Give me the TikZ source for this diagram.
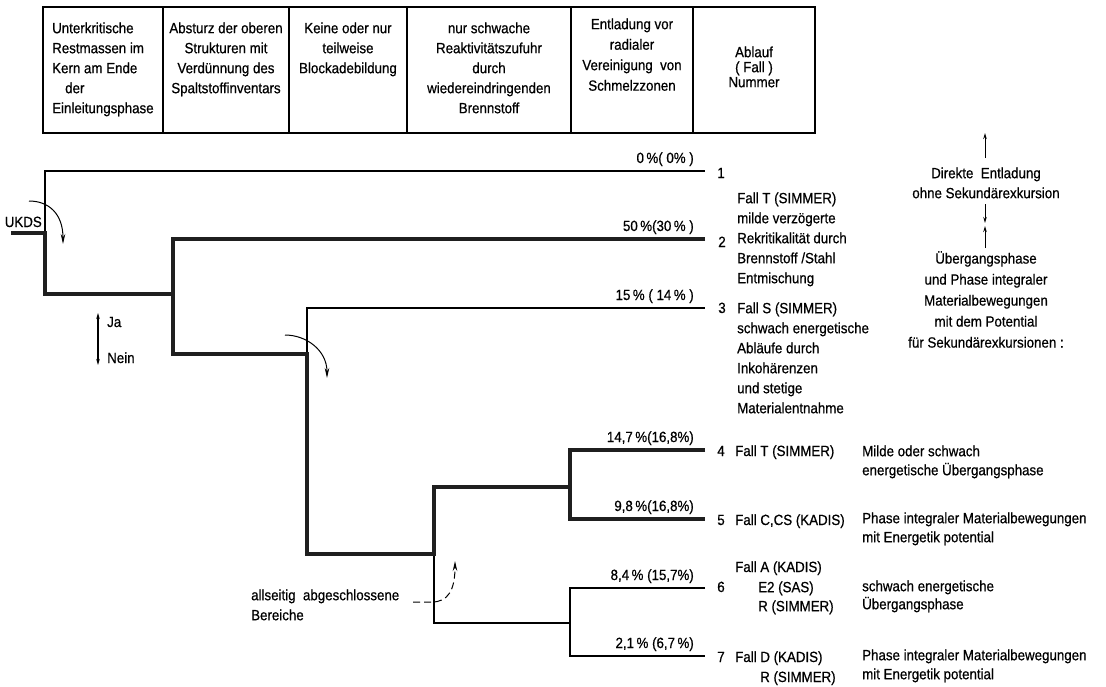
\documentclass[tikz,border=0pt]{standalone}
\usepackage{fontspec}
\setmainfont{Liberation Sans}[FakeStretch=0.9,FakeBold=0.6]
\usetikzlibrary{arrows.meta}
\newcommand{\myst}{\rule{0pt}{12pt}}
\begin{document}
\begin{tikzpicture}[x=1pt,y=-1pt,
  lthin/.style={line width=1.3pt, draw=black},
  lthick/.style={line width=3.2pt, draw=black!88},
  lbox/.style={line width=1.3pt},
  txt/.style={inner sep=0pt, font=\fontsize{14.8}{#1}\selectfont},
  txt/.default=20,
  curarrow/.style={line width=1pt, -{Stealth[length=10pt,width=4.5pt]}},
  smallarrow/.style={line width=1pt, -{Stealth[length=6pt,width=3.5pt]}},
]
\useasboundingbox (0,0) rectangle (1106,686);

% ---------- header table ----------
\draw[lbox] (43,7) rectangle (815,133);
\foreach \xx in {163,289,407,571,693} \draw[lbox] (\xx,7) -- (\xx,133);

\node[txt, anchor=north west, align=left] (h1) at (52,21)
  {\myst Unterkritische\\Restmassen im\\Kern am Ende\\\hspace*{13pt}der\\Einleitungsphase};
\node[txt, anchor=north, align=center] (h2) at (226,21)
  {\myst Absturz der oberen\\Strukturen mit\\Verdünnung des\\Spaltstoffinventars};
\node[txt, anchor=north, align=center] (h3) at (348,21)
  {\myst Keine oder nur\\teilweise\\Blockadebildung};
\node[txt, anchor=north, align=center] (h4) at (489,21)
  {\myst nur schwache\\Reaktivitätszufuhr\\durch\\wiedereindringenden\\Brennstoff};
\node[txt=20.5, anchor=north, align=center] (h5) at (632,17)
  {\myst Entladung vor\\radialer\\Vereinigung\ \ von\\Schmelzzonen};
\node[txt=15, anchor=north, align=center] (h6) at (754,45)
  {\myst Ablauf\\( Fall )\\Nummer};

% ---------- tree coordinates ----------
\coordinate (u0) at (11,233);
\coordinate (j1) at (45,233);
\coordinate (t1) at (45,171);
\coordinate (e1) at (705,171);
\coordinate (j1b) at (45,294);
\coordinate (j2) at (173,294);
\coordinate (j2t) at (173,239);
\coordinate (e2) at (705,239);
\coordinate (j2b) at (173,354);
\coordinate (j3) at (307,354);
\coordinate (j3t) at (307,308);
\coordinate (e3) at (705,308);
\coordinate (j3b) at (307,554);
\coordinate (j4) at (434,554);
\coordinate (j4t) at (434,487);
\coordinate (j5) at (570,487);
\coordinate (j5t) at (570,450);
\coordinate (e4) at (705,450);
\coordinate (j5b) at (570,519);
\coordinate (e5) at (705,519);
\coordinate (j4b) at (434,623);
\coordinate (j6) at (570,623);
\coordinate (j6t) at (570,588);
\coordinate (e6) at (705,588);
\coordinate (j6b) at (570,656);
\coordinate (e7) at (705,656);

% thin branches
\draw[lthin] (j1) -- (t1) -- (e1);
\draw[lthin] (j3) -- (j3t) -- (e3);
\draw[lthin] (j4) -- (j4b) -- (j6);
\draw[lthin] (e6) -- (j6t) -- (j6b) -- (e7);
% thick branches
\draw[lthick] (u0) -- (j1) -- (j1b) -- (j2);
\draw[lthick] (e2) -- (j2t) -- (j2b) -- (j3) -- (j3b) -- (j4) -- (j4t) -- (j5);
\draw[lthick] (e4) -- (j5t) -- (j5b) -- (e5);

% ---------- branch labels ----------
\node[txt, anchor=base east] (p1) at (694,163) {0\,\%( 0\% )};
\node[txt, anchor=base east] (p2) at (694,231) {50\,\%(30\,\% )};
\node[txt, anchor=base east] (p3) at (694,300) {15\,\% ( 14\,\% )};
\node[txt, anchor=base east] (p4) at (694,442) {14,7\,\%(16,8\%)};
\node[txt, anchor=base east] (p5) at (694,511) {9,8\,\%(16,8\%)};
\node[txt, anchor=base east] (p6) at (694,580) {8,4\,\% (15,7\%)};
\node[txt, anchor=base east] (p7) at (694,648) {2,1\,\% (6,7\,\%)};

% ---------- case numbers ----------
\node[txt, anchor=base] (n1) at (721,178) {1};
\node[txt, anchor=base] (n2) at (722,247) {2};
\node[txt, anchor=base] (n3) at (722,313) {3};
\node[txt, anchor=base] (n4) at (721,456) {4};
\node[txt, anchor=base] (n5) at (721,525) {5};
\node[txt, anchor=base] (n6) at (721,592) {6};
\node[txt, anchor=base] (n7) at (721,662) {7};

% ---------- case descriptions ----------
\node[txt, anchor=north west, align=left] (c2) at (737,191)
  {\myst Fall T (SIMMER)\\milde verzögerte\\Rekritikalität durch\\Brennstoff /Stahl\\Entmischung};
\node[txt, anchor=north west, align=left] (c3) at (737,301)
  {\myst Fall S (SIMMER)\\schwach energetische\\Abläufe durch\\Inkohärenzen\\und stetige\\Materialentnahme};
\node[txt, anchor=base west] (c4) at (735,456) {Fall T (SIMMER)};
\node[txt, anchor=base west] (c5) at (735,525) {Fall C,CS (KADIS)};
\node[txt, anchor=base west] (c6a) at (735,572) {Fall A (KADIS)};
\node[txt=19, anchor=north west, align=left] (c6b) at (758,580)
  {\myst E2 (SAS)\\R (SIMMER)};
\node[txt, anchor=base west] (c7a) at (735,662) {Fall D (KADIS)};
\node[txt, anchor=base west] (c7b) at (760,682) {R (SIMMER)};

\node[txt=19, anchor=north west, align=left] (d4) at (862,444)
  {\myst Milde oder schwach\\energetische Übergangsphase};
\node[txt=19, anchor=north west, align=left] (d5) at (862,511)
  {\myst Phase integraler Materialbewegungen\\mit Energetik potential};
\node[txt=18, anchor=north west, align=left] (d6) at (862,579)
  {\myst schwach energetische\\Übergangsphase};
\node[txt=19, anchor=north west, align=left] (d7) at (862,648)
  {\myst Phase integraler Materialbewegungen\\mit Energetik potential};

% ---------- right column legend ----------
\coordinate (a1s) at (985,158);
\coordinate (a1e) at (985,133);
\draw[smallarrow] (a1s) -- (a1e);
\node[txt, anchor=north, align=center] (r1) at (986,166)
  {\myst Direkte\ \ Entladung\\ohne Sekundärexkursion};
\coordinate (a2s) at (985,204);
\coordinate (a2e) at (985,223);
\draw[smallarrow] (a2s) -- (a2e);
\coordinate (a3s) at (985,248);
\coordinate (a3e) at (985,226);
\draw[smallarrow] (a3s) -- (a3e);
\node[txt=21, anchor=north, align=center] (r2) at (986,251)
  {\myst Übergangsphase\\und Phase integraler\\Materialbewegungen\\mit dem Potential\\für Sekundärexkursionen :};

% ---------- left annotations ----------
\node[txt, anchor=base east] (ukds) at (42,227) {UKDS};
\coordinate (k1s) at (29,201);
\coordinate (k1e) at (63,244);
\draw[curarrow] (k1s) .. controls (49,201) and (63,214) .. (k1e);

\coordinate (k2s) at (285,335);
\coordinate (k2e) at (327,378);
\draw[curarrow] (k2s) .. controls (306,335) and (327,350) .. (k2e);

\coordinate (ja1) at (98,313);
\coordinate (ja2) at (98,365);
\draw[line width=1.2pt, {Stealth[length=6pt,width=3.5pt]}-{Stealth[length=6pt,width=3.5pt]}] (ja1) -- (ja2);
\node[txt, anchor=base west] (ja) at (107,327) {Ja};
\node[txt, anchor=base west] (nein) at (107,363) {Nein};

\node[txt, anchor=north west, align=left] (allseitig) at (251,588)
  {\myst allseitig\ \ abgeschlossene\\Bereiche};
\coordinate (d1s) at (413,602);
\coordinate (d1m) at (432,602);
\coordinate (d1e) at (455,561);
\draw[line width=1pt, dash pattern=on 7pt off 4pt, -{Stealth[length=10pt,width=4.5pt]}]
  (d1s) -- (d1m) .. controls (448,602) and (455,590) .. (d1e);
\end{tikzpicture}
\end{document}
